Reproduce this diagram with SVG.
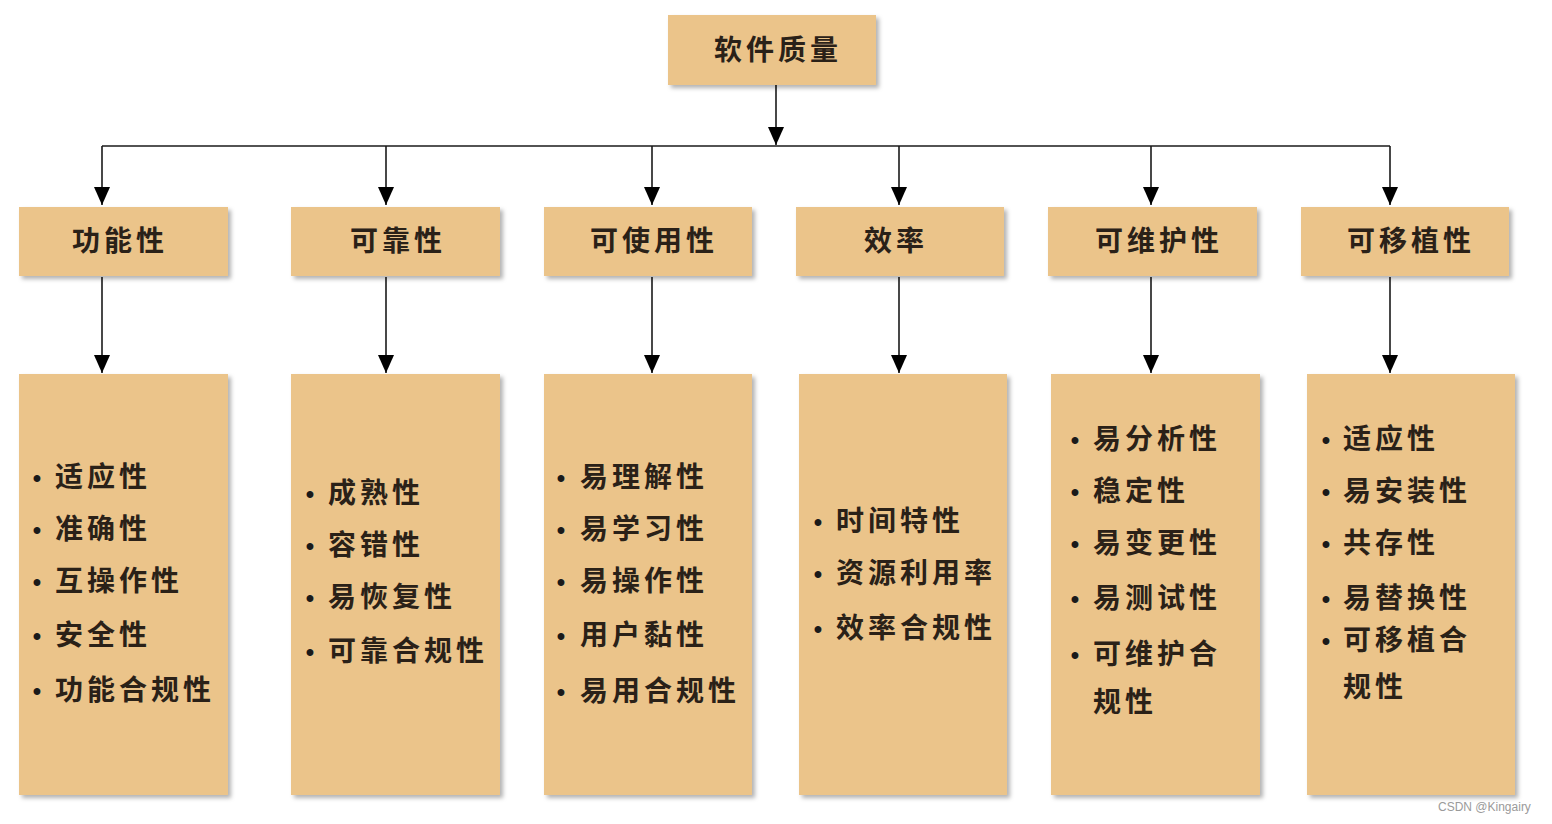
<svg xmlns="http://www.w3.org/2000/svg" width="1552" height="824" viewBox="0 0 1552 824">
<style>
.box{fill:#EBC48A;filter:url(#sh)}
.t{font-family:"Noto Sans CJK SC","Noto Sans",sans-serif;font-size:28px;font-weight:700;fill:#2a2118;letter-spacing:4px}
.c{text-anchor:middle}
.b{font-family:"Liberation Sans",Arial,sans-serif;font-size:24px;font-weight:700;fill:#1a1a1a;text-anchor:middle}
.ln{stroke:#1a1a1a;stroke-width:1.6;fill:none}
.wm{font-family:"Liberation Sans",Arial,sans-serif;font-size:12px;fill:#9a9a9a}
</style>
<defs>
<filter id="sh" x="-10%" y="-10%" width="130%" height="130%">
<feDropShadow dx="3" dy="3" stdDeviation="2" flood-color="#000" flood-opacity="0.3"/>
</filter>
<marker id="ar" viewBox="0 0 18 16" refX="18" refY="8" markerWidth="18" markerHeight="16" markerUnits="userSpaceOnUse" orient="auto">
<path d="M0,0 L18,8 L0,16 Z" fill="#000"/>
</marker>
</defs>
<rect width="1552" height="824" fill="#fff"/>

<g id="connectors">
<line class="ln" x1="776" y1="85" x2="776" y2="145" marker-end="url(#ar)"/>
<path class="ln" d="M102,146 H1390"/>
<line class="ln" x1="102" y1="146" x2="102" y2="205" marker-end="url(#ar)"/>
<line class="ln" x1="386" y1="146" x2="386" y2="205" marker-end="url(#ar)"/>
<line class="ln" x1="652" y1="146" x2="652" y2="205" marker-end="url(#ar)"/>
<line class="ln" x1="899" y1="146" x2="899" y2="205" marker-end="url(#ar)"/>
<line class="ln" x1="1151" y1="146" x2="1151" y2="205" marker-end="url(#ar)"/>
<line class="ln" x1="1390" y1="146" x2="1390" y2="205" marker-end="url(#ar)"/>
<line class="ln" x1="102" y1="277" x2="102" y2="373" marker-end="url(#ar)"/>
<line class="ln" x1="386" y1="277" x2="386" y2="373" marker-end="url(#ar)"/>
<line class="ln" x1="652" y1="277" x2="652" y2="373" marker-end="url(#ar)"/>
<line class="ln" x1="899" y1="277" x2="899" y2="373" marker-end="url(#ar)"/>
<line class="ln" x1="1151" y1="277" x2="1151" y2="373" marker-end="url(#ar)"/>
<line class="ln" x1="1390" y1="277" x2="1390" y2="373" marker-end="url(#ar)"/>
</g>

<g id="root">
<rect class="box" x="668" y="15" width="208" height="70"/>
<text class="t c" x="778" y="60">软件质量</text>
</g>

<g id="n-func"><rect class="box" x="19" y="207" width="209" height="69"/><text class="t c" x="120" y="251">功能性</text></g>
<g id="n-rel"><rect class="box" x="291" y="207" width="209" height="69"/><text class="t c" x="398" y="251">可靠性</text></g>
<g id="n-use"><rect class="box" x="544" y="207" width="208" height="69"/><text class="t c" x="654" y="251">可使用性</text></g>
<g id="n-eff"><rect class="box" x="796" y="207" width="208" height="69"/><text class="t c" x="896" y="251">效率</text></g>
<g id="n-mnt"><rect class="box" x="1048" y="207" width="209" height="69"/><text class="t c" x="1159" y="251">可维护性</text></g>
<g id="n-port"><rect class="box" x="1301" y="207" width="208" height="69"/><text class="t c" x="1411" y="251">可移植性</text></g>

<g id="d-func"><rect class="box" x="19" y="374" width="209" height="421"/>
<text class="b" x="37" y="486">•</text><text class="t" x="55" y="487">适应性</text>
<text class="b" x="37" y="538">•</text><text class="t" x="55" y="539">准确性</text>
<text class="b" x="37" y="590">•</text><text class="t" x="55" y="591">互操作性</text>
<text class="b" x="37" y="644">•</text><text class="t" x="55" y="645">安全性</text>
<text class="b" x="37" y="699">•</text><text class="t" x="55" y="700">功能合规性</text>
</g>
<g id="d-rel"><rect class="box" x="291" y="374" width="209" height="421"/>
<text class="b" x="310" y="502">•</text><text class="t" x="328" y="503">成熟性</text>
<text class="b" x="310" y="554">•</text><text class="t" x="328" y="555">容错性</text>
<text class="b" x="310" y="606">•</text><text class="t" x="328" y="607">易恢复性</text>
<text class="b" x="310" y="660">•</text><text class="t" x="328" y="661">可靠合规性</text>
</g>
<g id="d-use"><rect class="box" x="544" y="374" width="208" height="421"/>
<text class="b" x="561" y="486">•</text><text class="t" x="580" y="487">易理解性</text>
<text class="b" x="561" y="538">•</text><text class="t" x="580" y="539">易学习性</text>
<text class="b" x="561" y="590">•</text><text class="t" x="580" y="591">易操作性</text>
<text class="b" x="561" y="644">•</text><text class="t" x="580" y="645">用户黏性</text>
<text class="b" x="561" y="700">•</text><text class="t" x="580" y="701">易用合规性</text>
</g>
<g id="d-eff"><rect class="box" x="799" y="374" width="208" height="421"/>
<text class="b" x="818" y="530">•</text><text class="t" x="836" y="531">时间特性</text>
<text class="b" x="818" y="582">•</text><text class="t" x="836" y="583">资源利用率</text>
<text class="b" x="818" y="637">•</text><text class="t" x="836" y="638">效率合规性</text>
</g>
<g id="d-mnt"><rect class="box" x="1051" y="374" width="209" height="421"/>
<text class="b" x="1075" y="448">•</text><text class="t" x="1093" y="449">易分析性</text>
<text class="b" x="1075" y="500">•</text><text class="t" x="1093" y="501">稳定性</text>
<text class="b" x="1075" y="552">•</text><text class="t" x="1093" y="553">易变更性</text>
<text class="b" x="1075" y="607">•</text><text class="t" x="1093" y="608">易测试性</text>
<text class="b" x="1075" y="663">•</text><text class="t" x="1093" y="664">可维护合</text>
<text class="t" x="1093" y="712">规性</text>
</g>
<g id="d-port"><rect class="box" x="1307" y="374" width="208" height="421"/>
<text class="b" x="1326" y="448">•</text><text class="t" x="1343" y="449">适应性</text>
<text class="b" x="1326" y="500">•</text><text class="t" x="1343" y="501">易安装性</text>
<text class="b" x="1326" y="552">•</text><text class="t" x="1343" y="553">共存性</text>
<text class="b" x="1326" y="607">•</text><text class="t" x="1343" y="608">易替换性</text>
<text class="b" x="1326" y="649">•</text><text class="t" x="1343" y="650">可移植合</text>
<text class="t" x="1343" y="697">规性</text>
</g>

<text class="wm" x="1438" y="811">CSDN @Kingairy</text>
</svg>
